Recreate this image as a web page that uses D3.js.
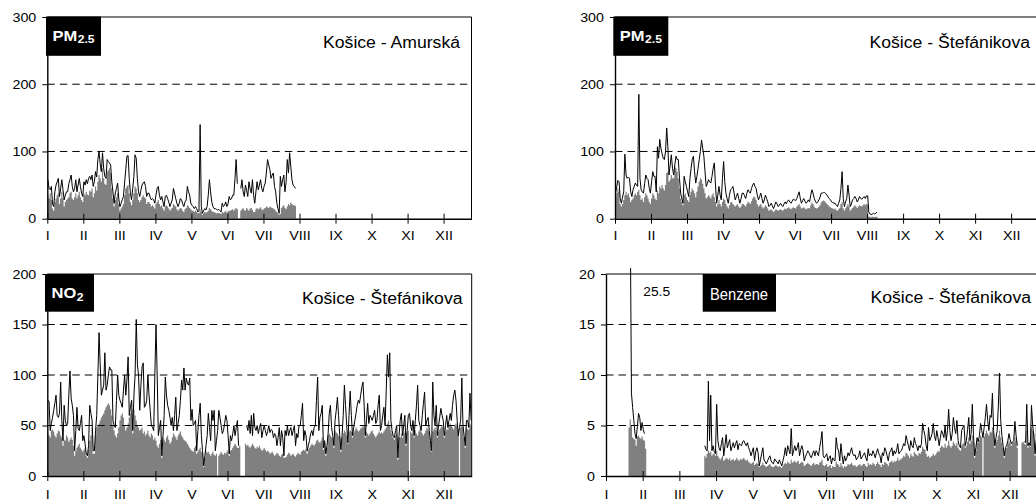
<!DOCTYPE html>
<html>
<head>
<meta charset="utf-8">
<script src="https://cdn.jsdelivr.net/npm/d3@7"></script>
<style>
  body { margin: 0; background: #fff; }
  svg { display: block; }
  text { font-family: "Liberation Sans", Arial, sans-serif; }
</style>
</head>
<body>
<svg id="chart" width="1036" height="502"></svg>
<script>
// Missing days are stored as null
const gap = n => Array(n).fill(null);

const months = ["I", "II", "III", "IV", "V", "VI", "VII", "VIII", "IX", "X", "XI", "XII"];
// category-axis tick marks every 31 days
const monthTickDays = [0, 31, 62, 93, 124, 155, 186, 217, 248, 279, 310, 341];

const pmTicks = [0, 100, 200, 300];
const no2Ticks = [0, 50, 100, 150, 200];
const benzeneTicks = [0, 5, 10, 15, 20];

// ---- PM2.5, Košice - Amurská (daily, from 1 Jan) ----
const pmAmurskaLine = [
  58,45,43,48,22,18,40,50,55,60,33,45,58,43,28,35,40,40,52,58,65,48,40,45,58,40,50,60,48,38,33,
  55,50,58,52,60,63,58,65,48,55,70,62,88,100,82,70,98,75,63,60,88,85,83,80,55,40,23,38,
  45,53,30,18,23,28,33,53,73,93,94,60,38,28,45,63,95,90,60,40,33,42,50,53,55,48,33,38,38,32,28,
  30,28,23,35,45,48,35,28,33,25,18,33,35,30,25,18,23,28,45,38,30,23,18,23,30,28,22,18,25,28,
  48,40,35,23,20,18,15,18,15,10,12,140,18,8,12,15,13,18,35,58,40,25,18,15,15,14,13,14,12,10,23,
  18,20,25,18,22,33,28,30,35,35,60,88,52,null,null,45,58,40,33,50,42,33,55,45,38,58,35,23,40,55,
  43,50,58,45,40,48,53,68,88,80,73,60,65,68,48,40,23,15,8,63,48,58,65,40,55,88,68,98,78,58,50,
  48,45
];
const pmAmurskaGray = [
  35,30,38,28,15,12,25,30,35,38,22,30,40,30,18,25,28,30,32,38,40,30,28,32,38,30,35,40,32,28,25,
  38,35,40,36,35,42,40,45,32,38,48,42,55,65,60,55,75,60,52,50,70,72,75,68,45,30,18,28,
  32,38,22,12,15,18,22,35,45,48,50,38,25,20,28,38,48,45,38,28,25,28,32,35,32,30,22,25,25,22,18,
  20,18,15,22,25,28,22,18,20,15,12,18,20,18,15,12,14,16,22,20,18,14,12,14,16,15,12,10,14,16,
  20,18,16,14,12,12,10,12,10,8,8,14,10,6,8,10,9,10,12,16,14,12,10,10,9,8,8,9,8,7,10,
  9,10,12,9,11,12,12,13,14,12,14,16,14,null,null,12,14,16,13,12,16,14,12,15,16,13,10,10,14,16,
  14,15,17,14,13,15,16,18,17,16,18,17,16,15,14,12,10,8,6,7,16,18,20,16,14,18,22,20,24,22,20,
  20,19
];

// ---- PM2.5, Košice - Štefánikova ----
const pmStefLine = [
  38,48,57,55,30,23,32,40,96,65, 60,62,60,40,33,43,48,53,50,48,
  185,60,43,40,38,52,65,60,58,45, 38,55,70,63,63,40,107,90,118,105,
  97,90,88,100,135,107,65,80,95,75, 65,80,93,88,88,60,38,30,23,63,
  55,48,40,33,60,75,88,93,70,53, 63,75,88,100,117,105,93,70,48,52,
  58,55,53,63,75,83,50,23,35,48, 35,28,60,85,55,38,30,23,35,43,
  45,48,38,28,33,38,30,23,30,38, 38,34,30,38,43,40,38,45,50,53,
  48,45,35,28,33,38,30,23,28,35, 30,25,18,20,23,19,15,20,25,22,
  18,20,23,20,18,22,25,22,26,28, 25,23,26,29,28,27,30,35,40,30,
  23,27,30,26,23,25,28,25,35,43, 38,30,26,23,25,28,32,38,38,39,
  39,37,35,32,30,28,25,24,23,23, 20,18,23,28,45,70,30,18,25,30,
  50,35,18,22,28,30,33,30,25,28, 33,30,29,31,33,30,34,34,10,7,
  6,7,8,7,8,10
];
const pmStefGray = [
  30,38,45,40,22,18,22,28,35,40, 35,38,32,25,28,30,35,38,35,40,
  43,35,28,30,25,32,38,35,30,25, 22,30,38,35,30,28,42,38,48,45,
  50,45,42,50,68,70,55,58,65,60, 60,78,75,70,60,45,30,25,20,35,
  38,32,28,25,35,40,45,42,38,32, 40,48,55,60,58,52,45,38,30,32,
  35,33,30,35,38,32,25,18,22,28, 22,18,25,30,28,22,18,15,20,24,
  25,22,20,18,20,22,18,16,18,22, 22,20,18,22,25,24,22,26,30,33,
  32,28,22,18,20,22,18,15,17,20, 18,15,12,13,14,12,10,12,14,13,
  12,13,14,13,12,14,15,14,16,17, 15,14,16,17,16,15,18,20,22,18,
  15,16,17,15,14,15,16,15,20,24, 22,18,16,15,16,18,20,24,26,27,
  26,24,22,20,18,17,16,15,14,15, 13,12,14,16,22,25,15,12,15,18,
  22,18,12,14,16,18,20,18,16,18, 20,19,18,20,22,20,22,21,3,3,
  2,3,3,2,3,3
];

// ---- NO2, Košice - Štefánikova ----
const no2Line = [
  75,74,45,52,58,65,72,80,60,58, 62,93,55,35,70,55,50,52,80,104,
  77,70,60,25,45,68,47,45,52,60, 35,40,32,22,20,30,70,62,55,25,
  25,45,60,100,142,110,80,85,90,122, 85,90,100,108,105,105,55,50,48,75,
  100,80,75,72,68,85,100,80,95,118, 60,68,75,45,80,100,155,110,100,65,
  90,108,112,68,70,75,100,80,65,50, 48,45,100,150,100,40,48,55,20,40,
  60,98,80,70,65,58,50,58,45,60, 78,45,52,60,75,95,85,107,85,97,
  92,90,97,55,66,50,52,55,25,45, 60,72,40,25,10,20,30,40,62,48,
  35,65,55,65,25,35,45,65,58,50, 42,45,52,60,55,40,22,40,35,42,
  50,40,48,55,30,null,null,null,null,null, null,50,45,55,42,60,40,62,48,45,
  50,42,48,52,38,45,50,45,40,44, 50,43,46,45,38,42,40,30,38,48,
  30,45,38,20,45,40,50,40,45,48, 40,45,50,30,42,38,50,50,60,72,
  35,45,40,25,30,35,42,45,40,48, 50,75,98,45,58,62,70,28,35,22,
  30,42,62,70,48,40,30,55,65,78, 60,40,26,40,60,90,70,50,33,60,
  84,60,40,48,55,62,70,75,72,80, 88,93,70,40,55,72,52,60,58,55,
  60,65,52,55,70,80,45,50,60,68, 50,85,120,98,122,55,45,40,38,45,
  50,18,40,55,62,40,50,60,32,45, 60,62,50,45,55,40,55,70,90,55,
  50,45,60,72,83,50,55,58,45,35, 25,93,60,50,70,40,50,58,67,60,
  55,40,50,60,48,55,62,55,70,80, 85,75,55,40,48,55,97,50,40,30,
  55,55,48,82,55
];
const no2Gray = [
  42,40,38,45,46,44,40,38,42,45, 44,40,38,30,36,35,40,38,34,36,
  38,36,30,20,25,28,30,32,28,26, 24,26,28,20,18,26,35,40,48,22,
  22,40,48,50,52,55,58,60,62,65, 68,70,72,70,66,60,50,45,40,38,
  42,48,55,60,62,58,50,45,48,52, 58,62,65,42,66,60,55,50,48,45,
  46,48,42,44,40,42,45,40,38,42, 40,36,38,35,30,28,32,36,18,38,
  36,34,38,40,36,32,34,38,42,40, 38,36,40,42,44,40,38,36,35,34,
  32,30,28,26,25,24,28,30,22,24, 26,28,24,22,9,18,25,23,24,22,
  20,22,24,21,20,22,null,20,22,24, 22,21,23,22,24,26,20,25,26,28,
  30,32,30,28,28,30,null,null,null,null, 32,30,31,29,28,30,32,30,28,27,
  29,28,30,27,25,26,28,26,24,25, 24,22,23,24,22,20,21,23,22,20,
  19,21,22,18,18,19,21,23,22,20, 21,22,20,19,21,23,22,21,24,25,
  26,25,27,22,26,28,30,32,31,30, 32,35,36,34,33,35,38,26,33,20,
  28,40,42,40,38,38,28,45,43,42, 40,38,24,38,42,45,43,40,32,44,
  45,44,38,43,45,48,46,44,45,47, 48,50,48,38,44,42,40,42,44,45,
  42,40,38,40,42,44,42,43,42,44, 46,48,52,55,50,45,42,38,36,40,
  42,16,38,38,42,38,44,42,30,43, 45,null,44,42,46,38,45,42,40,44,
  46,44,42,40,42,45,48,46,44,34, 24,44,46,48,45,38,44,46,48,50,
  48,38,44,46,46,50,52,50,48,46, 50,52,50,46,null,48,50,48,38,28,
  48,46,46,52,50
];

// ---- Benzene, Košice - Štefánikova ----
const benzeneLine = [
  ...gap(20),
  25.5,8.2,6.8,5.5,4.2,3.7,4.9,6.2,5.8,4.5,5.3,4.6,4.2,
  ...gap(50),
  3.0,2.6,2.5,9.4,3.5,8.0,2.5,3.0,2.4,2.2, 7.1,3.5,2.8,2.5,3.2,3.8,2.0,3.0,4.1,2.8,
  3.2,3.6,2.5,2.9,3.3,2.8,3.2,3.5,2.6,3.2, 3.1,3.0,3.4,3.5,3.2,3.0,3.3,2.8,2.5,2.0,
  2.4,2.8,1.5,2.4,2.8,2.3,1.0,1.6,2.2,2.8, 1.6,1.4,1.2,1.5,1.8,2.0,1.5,1.3,1.2,1.7,
  1.5,1.4,1.2,1.6,1.3,1.0,1.5,2.0,2.8,2.0, 3.0,2.6,2.2,4.7,2.0,2.5,3.0,2.5,2.8,3.3,
  2.0,2.6,3.0,2.5,1.5,1.9,2.2,2.5,2.3,2.0, 1.8,2.2,2.5,2.0,2.5,2.3,2.0,2.8,3.5,4.4,
  2.0,1.8,2.0,2.2,1.5,1.8,2.0,1.2,1.8,1.6, 1.5,3.8,2.8,2.5,1.5,3.2,2.0,1.2,2.0,1.5,
  1.8,2.3,2.0,2.4,2.8,2.2,2.0,2.1,1.6,1.8, 2.0,2.5,1.7,1.9,2.1,2.3,1.8,1.5,2.7,2.0,
  2.2,2.0,2.5,2.2,1.8,2.3,2.7,2.2,2.0,1.3, 2.3,2.0,2.8,2.5,2.0,1.5,2.3,2.5,2.8,2.0,
  2.5,2.2,2.5,3.2,2.2,2.4,2.5,2.8,3.2,3.0, 4.0,3.5,3.0,2.5,3.5,3.0,2.8,3.8,3.2,3.0,
  2.5,3.0,2.8,3.2,5.2,4.5,4.0,3.0,2.5,4.8, 3.5,3.8,4.2,5.2,4.0,3.5,4.5,3.8,3.0,3.8,
  4.5,4.2,3.8,5.0,3.5,4.5,6.6,4.5,3.5,4.2, 5.8,4.8,4.2,5.5,3.5,3.0,2.8,4.5,4.8,5.0,
  3.0,3.5,4.6,5.8,3.5,4.2,7.1,4.0,2.0,2.8, 3.8,3.4,4.0,5.2,4.5,3.8,4.8,5.8,7.1,5.5,
  4.5,6.0,5.8,8.2,4.5,3.0,3.8,4.5,7.0,10.2, 5.5,4.0,3.0,2.0,2.8,3.0,3.5,4.2,3.6,3.2,
  3.4,3.5,5.4,4.0,3.0,
  ...gap(5),
  3.4,3.3,7.1,3.0,3.3,3.0,7.0,5.0,4.0,2.2,3.5,4.0
];
const benzeneGray = [
  ...gap(19),
  4.8,5.6,5.0,3.8,3.7,3.6,3.0,3.9,4.0,3.8,3.7,3.9,3.6,3.5,2.7,
  ...gap(49),
  2.0,1.8,2.2,2.5,2.3,2.4,2.0,2.2,2.2,2.0, 2.5,2.0,1.8,1.6,1.8,2.0,1.5,1.6,1.8,1.7,
  1.6,1.8,1.5,1.6,1.7,1.5,1.6,1.8,1.6,1.5, 1.7,1.6,1.7,1.8,1.6,1.5,1.6,1.4,1.3,1.2,
  1.3,1.4,1.1,1.2,1.3,1.2,0.9,1.0,1.1,1.3, 1.1,1.0,0.9,1.0,1.1,1.2,1.0,0.9,0.9,1.0,
  1.1,1.0,0.9,1.0,0.9,0.8,1.0,1.2,1.3,1.2, 1.4,1.3,1.2,1.6,1.3,1.4,1.5,1.3,1.4,1.5,
  1.2,1.3,1.4,1.3,1.0,1.1,1.2,1.3,1.2,1.1, 1.0,1.2,1.3,1.1,1.2,1.2,1.1,1.3,1.4,1.6,
  1.1,1.0,1.1,1.2,0.9,1.0,1.1,0.8,1.0,0.9, 0.9,1.4,1.2,1.1,0.9,1.3,1.0,0.8,1.0,0.9,
  1.0,1.2,1.1,1.2,1.3,1.1,1.0,1.1,0.9,1.0, 1.1,1.2,1.0,1.1,1.2,1.2,1.0,0.9,1.3,1.1,
  1.2,1.1,1.3,1.2,1.0,1.2,1.4,1.2,1.1,0.9, 1.2,1.1,1.4,1.3,1.2,1.0,1.3,1.4,1.5,1.3,
  1.5,1.4,1.5,1.8,1.5,1.6,1.7,1.8,2.0,1.9, 2.3,2.2,2.0,1.8,2.2,2.0,1.9,2.4,2.2,2.1,
  2.0,2.3,2.2,2.4,2.9,2.7,2.6,2.2,1.9,2.0, 1.8,1.9,2.0,2.2,2.0,2.1,2.3,2.5,2.4,2.8,
  3.0,2.9,2.8,3.2,2.8,3.0,3.5,3.0,2.8,3.0, 3.4,3.2,3.0,3.3,2.8,2.6,2.5,3.0,3.2,3.3,
  2.8,3.0,3.4,3.8,3.2,3.5,4.0,3.4,1.8,2.5, 3.5,3.3,3.6,4.0,3.8,null,3.9,4.2,4.5,4.2,
  4.0,4.4,4.3,4.8,4.2,2.8,3.4,3.6,4.0,4.5, 3.8,3.3,2.8,1.8,2.6,2.8,3.2,3.5,3.3,3.0,
  3.3,3.4,3.8,3.5,2.8,
  ...gap(3),
  3.3,3.4,3.2,3.1,4.5,2.8,3.1,2.9,4.8,4.5,4.2,2.0,5.0,5.2
];

const panels = [
  { line: pmAmurskaLine, gray: pmAmurskaGray, ticks: pmTicks, grid: [100, 200], ymax: 300,
    left: 47.3, right: 471.5, top: 17, bottom: 218.7, labelY: 240.5,
    title: "Košice - Amurská", titleX: 460, titleY: 48.3,
    badge: { x: 46, y: 16.5, w: 55, h: 39.3, main: "PM", sub: "2.5", bold: true } },
  { line: pmStefLine, gray: pmStefGray, ticks: pmTicks, grid: [100, 200], ymax: 300,
    left: 615, right: 1039, top: 17, bottom: 218.7, labelY: 240.5,
    title: "Košice - Štefánikova", titleX: 1030, titleY: 48.3,
    badge: { x: 613.3, y: 16.5, w: 55, h: 39.3, main: "PM", sub: "2.5", bold: true } },
  { line: no2Line, gray: no2Gray, ticks: no2Ticks, grid: [50, 100, 150], ymax: 200,
    left: 47.3, right: 471.7, top: 274, bottom: 476, labelY: 499,
    title: "Košice - Štefánikova", titleX: 462.5, titleY: 303.5,
    badge: { x: 45, y: 274, w: 49, h: 37.7, main: "NO", sub: "2", bold: true } },
  { line: benzeneLine, gray: benzeneGray, ticks: benzeneTicks, grid: [5, 10, 15], ymax: 20,
    left: 606, right: 1038, top: 274, bottom: 476, labelY: 499,
    title: "Košice - Štefánikova", titleX: 1031, titleY: 302.5,
    badge: { x: 702.7, y: 274, w: 73.3, h: 37.7, main: "Benzene", bold: false },
    note: { text: "25.5", x: 643.3, y: 296 } }
];

const svg = d3.select("#chart");
const STRETCH = 1.1;

// widen glyphs horizontally to the proportions of the printed labels
function stretchText(sel, k) {
  sel.each(function () {
    const w = this.getComputedTextLength();
    if (w > 0) d3.select(this).attr("textLength", w * k).attr("lengthAdjust", "spacingAndGlyphs");
  });
}

const has = v => v !== null && v !== undefined;

// each daily value fills its own day slot; a missing day leaves a one-day gap
function daySteps(values) {
  const out = [];
  values.forEach((v, i) => {
    if (has(v)) { out.push({ t: i, v }); out.push({ t: i + 1, v }); }
    else out.push({ t: i + 0.5, v: null });
  });
  return out;
}

panels.forEach((p, pi) => {
  const x = d3.scaleLinear().domain([0, 365]).range([p.left, p.right]);
  const y = d3.scaleLinear().domain([0, p.ymax]).range([p.bottom, p.top]);
  const g = svg.append("g");

  const clipId = "plot-clip-" + pi;
  svg.append("clipPath").attr("id", clipId).append("rect")
    .attr("x", p.left).attr("y", p.top - 6)
    .attr("width", p.right - p.left).attr("height", p.bottom - p.top + 6);

  const area = d3.area().defined(d => has(d.v))
    .x(d => x(d.t)).y0(y(0)).y1(d => y(d.v));
  const line = d3.line().defined(has)
    .x((v, i) => x(i + 0.5)).y(v => y(v));

  g.append("path").datum(daySteps(p.gray))
    .attr("d", area).attr("fill", "#808080")
    .attr("clip-path", `url(#${clipId})`);

  // dashed reference levels
  g.selectAll("line.grid").data(p.grid).join("line")
    .attr("class", "grid")
    .attr("x1", p.left).attr("x2", p.right)
    .attr("y1", d => y(d)).attr("y2", d => y(d))
    .attr("stroke", "#000").attr("stroke-width", 1)
    .attr("stroke-dasharray", "7.5,5");

  g.append("path").datum(p.line)
    .attr("d", line).attr("fill", "none")
    .attr("stroke", "#000").attr("stroke-width", 1)
    .attr("stroke-linejoin", "round")
    .attr("clip-path", `url(#${clipId})`);

  // frame: top and right edges
  g.append("line").attr("x1", p.left).attr("x2", p.right)
    .attr("y1", y(p.ymax)).attr("y2", y(p.ymax))
    .attr("stroke", "#000").attr("stroke-width", 1);
  g.append("line").attr("x1", p.right).attr("x2", p.right)
    .attr("y1", p.top).attr("y2", p.bottom)
    .attr("stroke", "#000").attr("stroke-width", 1);

  // value axis
  const ya = g.append("g").attr("transform", `translate(${p.left},0)`)
    .call(d3.axisLeft(y).tickValues(p.ticks).tickSize(5).tickSizeOuter(0).tickPadding(6));
  ya.attr("font-family", null).attr("font-size", null);
  ya.select(".domain").attr("stroke-width", 1.4);
  ya.selectAll(".tick line").attr("stroke-width", 1);
  ya.selectAll(".tick text").attr("font-size", 13).attr("fill", "#000");
  stretchText(ya.selectAll(".tick text"), STRETCH);

  // month axis
  const xa = g.append("g").attr("transform", `translate(0,${p.bottom})`)
    .call(d3.axisBottom(x).tickValues(monthTickDays).tickFormat((d, i) => months[i])
      .tickSize(5).tickSizeOuter(0));
  xa.attr("font-family", null).attr("font-size", null);
  xa.select(".domain").attr("stroke-width", 1.6);
  xa.selectAll(".tick line").attr("y1", -5).attr("y2", 5).attr("stroke-width", 1);
  xa.selectAll(".tick text").attr("font-size", 13).attr("fill", "#000")
    .attr("y", p.labelY - p.bottom).attr("dy", 0);
  stretchText(xa.selectAll(".tick text"), STRETCH);

  // station name
  const t = g.append("text").attr("x", p.titleX).attr("y", p.titleY)
    .attr("text-anchor", "end").attr("font-size", 16).attr("fill", "#000")
    .text(p.title);
  stretchText(t, STRETCH);

  // pollutant badge
  const b = p.badge;
  g.append("rect").attr("x", b.x).attr("y", b.y).attr("width", b.w).attr("height", b.h).attr("fill", "#000");
  if (b.bold) {
    const mainText = g.append("text").attr("x", b.x + 6.5).attr("y", b.y + 24)
      .attr("font-size", 15).attr("font-weight", "bold").attr("fill", "#fff").text(b.main);
    stretchText(mainText, STRETCH);
    const mw = +mainText.attr("textLength");
    const subText = g.append("text").attr("x", b.x + 6.5 + mw + 0.5).attr("y", b.y + 26.5)
      .attr("font-size", 11).attr("font-weight", "bold").attr("fill", "#fff").text(b.sub);
    stretchText(subText, STRETCH);
  } else {
    g.append("text").attr("x", b.x + 7.3).attr("y", b.y + 25.5)
      .attr("font-size", 17).attr("fill", "#fff")
      .attr("textLength", 58).attr("lengthAdjust", "spacingAndGlyphs")
      .text(b.main);
  }

  if (p.note) {
    const n = g.append("text").attr("x", p.note.x).attr("y", p.note.y)
      .attr("font-size", 12.5).attr("fill", "#000").text(p.note.text);
    stretchText(n, STRETCH);
  }
});
</script>
</body>
</html>
